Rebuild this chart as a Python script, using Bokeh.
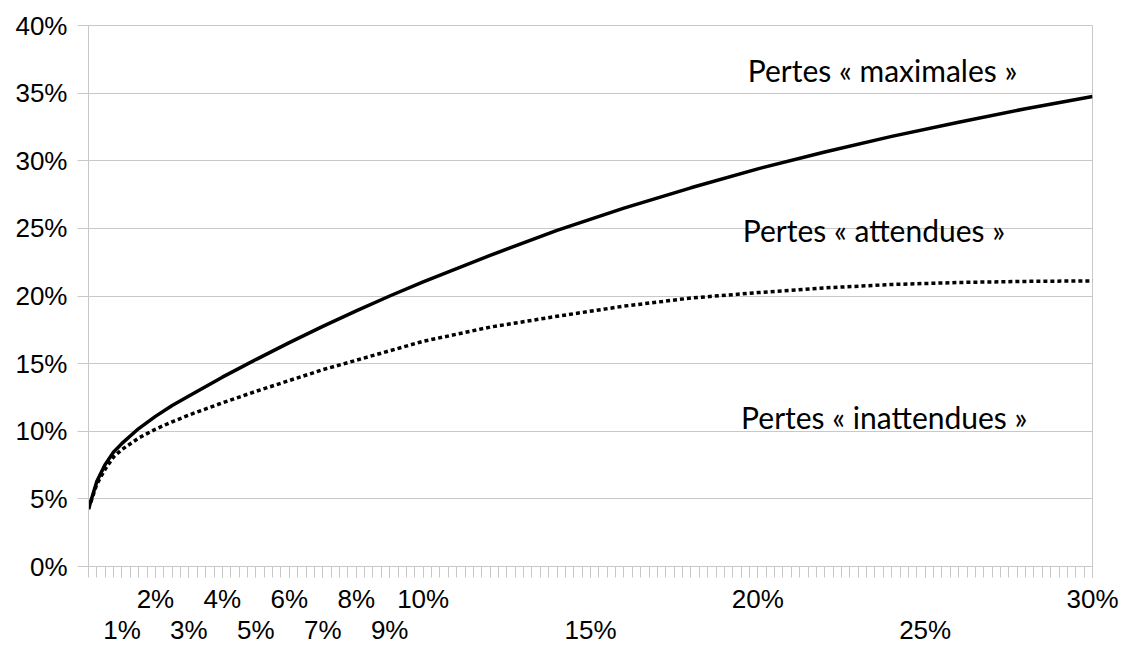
import numpy as np
from bokeh.plotting import figure
from bokeh.models import Range1d, FixedTicker, LinearAxis, PrintfTickFormatter, ColumnDataSource
from bokeh.core.properties import value
from bokeh.embed import file_html
from bokeh.resources import INLINE

# Default rate (%) on x, losses (%) on y
x_rate = [0, 0.25, 0.5, 0.75, 1, 1.5, 2, 2.5, 3, 4, 5, 6, 7, 8, 9, 10,
          12, 14, 16, 18, 20, 22, 24, 26, 28, 30]
pertes_maximales = [4.25, 6.3, 7.55, 8.47, 9.1, 10.2, 11.1, 11.9, 12.6, 14.0, 15.3,
                    16.55, 17.75, 18.9, 20.0, 21.05, 23.0, 24.85, 26.5, 28.0,
                    29.4, 30.65, 31.8, 32.85, 33.85, 34.75]
pertes_attendues = [4.25, 6.1, 7.2, 8.1, 8.65, 9.5, 10.15, 10.7, 11.2, 12.1, 12.95,
                    13.75, 14.55, 15.25, 15.95, 16.65, 17.7, 18.5, 19.25, 19.85,
                    20.25, 20.6, 20.85, 21.0, 21.08, 21.12]

x_ticks_upper = [2, 4, 6, 8, 10, 20, 30]
x_ticks_lower = [1, 3, 5, 7, 9, 15, 25]
y_ticks = [0, 5, 10, 15, 20, 25, 30, 35, 40]

label_texts = ["Pertes « maximales »", "Pertes « attendues »", "Pertes « inattendues »"]
label_x = [19.7, 19.55, 19.5]
label_y = [36.7, 24.85, 11.05]

GRID = "#c8c8c8"
TICK_FONT = "Liberation Sans"

p = figure(width=1122, height=648, output_backend="svg", toolbar_location=None,
           x_range=Range1d(0, 30), y_range=Range1d(0, 40),
           min_border_left=88, min_border_right=30, min_border_top=25, min_border_bottom=0,
           x_axis_location=None)
p.background_fill_color = "white"
p.border_fill_color = "white"
p.outline_line_color = GRID
p.outline_line_width = 1

# y axis
p.yaxis.ticker = FixedTicker(ticks=y_ticks, minor_ticks=[])
p.yaxis.formatter = PrintfTickFormatter(format="%d%%")
p.yaxis.axis_line_color = GRID
p.yaxis.major_tick_line_color = GRID
p.yaxis.major_tick_out = 11
p.yaxis.major_tick_in = 0
p.yaxis.minor_tick_line_color = None
p.yaxis.major_label_text_font = TICK_FONT
p.yaxis.major_label_text_font_size = "26px"
p.yaxis.major_label_text_color = "black"
p.yaxis.major_label_standoff = 10

p.ygrid.grid_line_color = GRID
p.ygrid.ticker = FixedTicker(ticks=y_ticks)
p.xgrid.grid_line_color = None

# x axis: labels staggered on two rows (odd ones pushed to a second line)
minor = list(np.arange(0, 30.001, 0.25))
all_ticks = sorted(x_ticks_upper + x_ticks_lower)
overrides = {t: f"{t}%" for t in x_ticks_upper}
overrides.update({t: f"\n{t}%" for t in x_ticks_lower})
ax1 = LinearAxis(ticker=FixedTicker(ticks=all_ticks, minor_ticks=minor),
                 major_label_overrides=overrides)
ax1.axis_line_color = GRID
ax1.major_tick_line_color = GRID
ax1.minor_tick_line_color = GRID
ax1.major_tick_out = 11
ax1.major_tick_in = 0
ax1.minor_tick_out = 11
ax1.minor_tick_in = 0
ax1.major_label_text_font = TICK_FONT
ax1.major_label_text_font_size = "26px"
ax1.major_label_text_color = "black"
ax1.major_label_text_line_height = 1.05
ax1.major_label_standoff = 6
p.add_layout(ax1, "below")

src = ColumnDataSource(dict(x=x_rate, ymax=pertes_maximales, yatt=pertes_attendues))
p.line("x", "ymax", source=src, line_color="black", line_width=3.5)
p.line("x", "yatt", source=src, line_color="black", line_width=3.5, line_dash="4 3")

p.text(x=label_x, y=label_y, text=label_texts, text_font=value("Lato"),
       text_font_size="30px", text_baseline="middle", text_align="left", text_color="black")

open("out.html", "w").write(file_html(p, INLINE))
